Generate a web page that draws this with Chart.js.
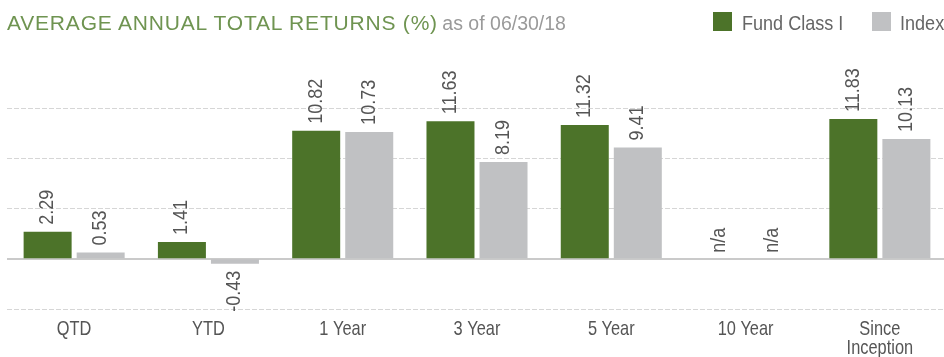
<!DOCTYPE html>
<html>
<head>
<meta charset="utf-8">
<script src="https://cdn.jsdelivr.net/npm/chart.js@4"></script>
<style>
  html, body { margin: 0; padding: 0; background: #fff; overflow: hidden; }
  #wrap { position: relative; width: 944px; height: 357px; }
  #returnsChart { position: absolute; left: 0; top: 0; }
  .head { position: absolute; left: 7px; top: 23px; font-family: "Liberation Sans", Arial, sans-serif; white-space: nowrap; line-height: 0; }
  .head .main { color: #6f9451; font-size: 21px; letter-spacing: 0.8px; }
  .head .date { color: #9a9a9a; font-size: 19.5px; }
  .swatch { position: absolute; top: 12px; width: 19px; height: 19px; }
  .key { position: absolute; top: 23px; line-height: 0; font-family: "Liberation Sans Narrow", "Liberation Sans", sans-serif; font-size: 21px; color: #666; white-space: nowrap; transform: scaleX(0.86); transform-origin: left; }
</style>
</head>
<body>
<div id="wrap">
  <canvas id="returnsChart" width="947" height="357"></canvas>
  <div class="head"><span class="main">AVERAGE ANNUAL TOTAL RETURNS (%)</span> <span class="date">as of 06/30/18</span></div>
  <div class="swatch" style="left:713px;background:#4c7329"></div>
  <div class="key" style="left:742px">Fund Class I</div>
  <div class="swatch" style="left:872px;background:#c0c1c3"></div>
  <div class="key" style="left:900px">Index</div>
</div>
<script>
document.addEventListener('DOMContentLoaded', () => {
  // --- Data ---
  const periods = ['QTD', 'YTD', '1 Year', '3 Year', '5 Year', '10 Year', ['Since', 'Inception']];
  const fundReturns = [2.29, 1.41, 10.82, 11.63, 11.32, null, 11.83];
  const indexReturns = [0.53, -0.43, 10.73, 8.19, 9.41, null, 10.13];
  const seriesNames = ['Fund Class I', 'Index'];
  const yMin = -4.25, yMax = 12.75, yStep = 4.25;

  const narrowFont = '"Liberation Sans Narrow", "Liberation Sans", sans-serif';
  const green = '#4c7329';
  const grey = '#c0c1c3';

  // solid baseline at zero, drawn under the bars
  const zeroLine = {
    id: 'zeroLine',
    beforeDatasetsDraw(chart) {
      const { ctx, chartArea, scales } = chart;
      const y = Math.round(scales.y.getPixelForValue(0));
      ctx.save();
      ctx.strokeStyle = '#cacaca';
      ctx.lineWidth = 2;
      ctx.beginPath();
      ctx.moveTo(chartArea.left, y);
      ctx.lineTo(chartArea.right, y);
      ctx.stroke();
      ctx.restore();
    }
  };

  // category names under the axis, squeezed horizontally for a condensed look
  const periodLabels = {
    id: 'periodLabels',
    afterDraw(chart) {
      const { ctx, scales } = chart;
      ctx.save();
      ctx.fillStyle = '#555';
      ctx.font = '21px ' + narrowFont;
      ctx.textAlign = 'center';
      ctx.textBaseline = 'alphabetic';
      periods.forEach((label, i) => {
        const lines = Array.isArray(label) ? label : [label];
        const x = scales.x.getPixelForValue(i);
        lines.forEach((line, j) => {
          ctx.save();
          ctx.translate(x, 335 + j * 19);
          ctx.scale(0.78, 1);
          ctx.fillText(line, 0, 0);
          ctx.restore();
        });
      });
      ctx.restore();
    }
  };

  // rotated value labels; missing values print "n/a"
  const valueLabels = {
    id: 'valueLabels',
    afterDatasetsDraw(chart) {
      const { ctx, scales } = chart;
      const zeroY = scales.y.getPixelForValue(0);
      ctx.save();
      ctx.fillStyle = '#555';
      ctx.font = '20px ' + narrowFont;
      ctx.textBaseline = 'middle';
      chart.data.datasets.forEach((ds, di) => {
        chart.getDatasetMeta(di).data.forEach((bar, i) => {
          const v = ds.data[i];
          let y, align, text;
          if (v === null) {
            y = zeroY - 6; align = 'left'; text = 'n/a';
          } else if (v >= 0) {
            y = bar.y - 7; align = 'left'; text = v.toFixed(2);
          } else {
            y = bar.y + 7; align = 'right'; text = v.toFixed(2);
          }
          ctx.save();
          ctx.translate(bar.x, y);
          ctx.rotate(-Math.PI / 2);
          ctx.scale(0.9, 1);
          ctx.textAlign = align;
          ctx.fillText(text, 0, 0);
          ctx.restore();
        });
      });
      ctx.restore();
    }
  };

  new Chart(document.getElementById('returnsChart'), {
    type: 'bar',
    data: {
      labels: periods,
      datasets: [
        { label: seriesNames[0], data: fundReturns, backgroundColor: green },
        { label: seriesNames[1], data: indexReturns, backgroundColor: grey }
      ]
    },
    options: {
      responsive: false,
      animation: false,
      devicePixelRatio: 1,
      categoryPercentage: 0.79,
      barPercentage: 0.905,
      layout: { padding: { left: 7, top: 108, right: 0, bottom: 0 } },
      plugins: { legend: { display: false }, tooltip: { enabled: false } },
      scales: {
        x: {
          grid: { display: false },
          border: { display: false },
          ticks: { display: false },
          afterFit(scale) { scale.height = 48; }
        },
        y: {
          min: yMin,
          max: yMax,
          ticks: { display: false, stepSize: yStep },
          grid: { color: '#d6d6d6', lineWidth: 1, drawTicks: false },
          border: { display: false, dash: [5, 2] },
          afterFit(scale) { scale.width = 0; }
        }
      }
    },
    plugins: [zeroLine, periodLabels, valueLabels]
  });
});
</script>
</body>
</html>
